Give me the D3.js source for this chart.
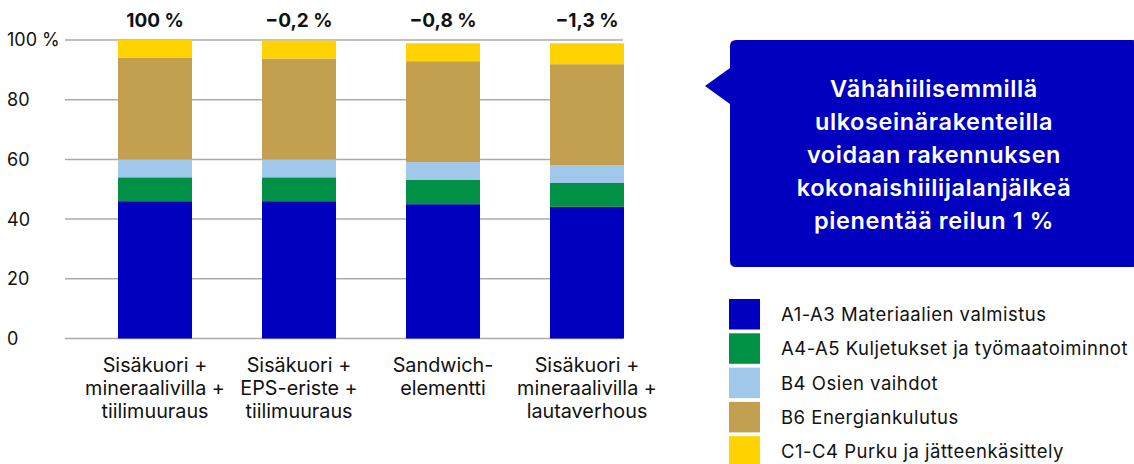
<!DOCTYPE html>
<html><head><meta charset="utf-8">
<script src="https://cdn.jsdelivr.net/npm/d3@7"></script>
<style>
html,body{margin:0;padding:0;background:#fff;}
svg{display:block;font-family:Inter, Roboto, "Noto Sans", sans-serif;}
</style></head>
<body>
<svg id="c" width="1134" height="464"></svg>
<script>
// ---- data ----
const categories = [
  ["Sisäkuori +", "mineraalivilla +", "tiilimuuraus"],
  ["Sisäkuori +", "EPS-eriste +", "tiilimuuraus"],
  ["Sandwich-", "elementti"],
  ["Sisäkuori +", "mineraalivilla +", "lautaverhous"]
];
const topLabels = ["100 %", "\u22120,2 %", "\u22120,8 %", "\u22121,3 %"];
const seriesNames = [
  "A1-A3 Materiaalien valmistus",
  "A4-A5 Kuljetukset ja työmaatoiminnot",
  "B4 Osien vaihdot",
  "B6 Energiankulutus",
  "C1-C4 Purku ja jätteenkäsittely"
];
const seriesColors = ["#0000BE", "#009046", "#A0C8EA", "#C3A050", "#FFD200"];
const A1A3 = [46, 46, 45, 44.1];
const A4A5 = [8, 8, 8.1, 8];
const B4   = [6, 6, 6, 6];
const B6   = [34, 33.8, 33.8, 33.8];
const C1C4 = [6, 6, 6, 7];
const yTicks = [0, 20, 40, 60, 80, 100];
const calloutLines = ["Vähähiilisemmillä", "ulkoseinärakenteilla", "voidaan rakennuksen", "kokonaishiilijalanjälkeä", "pienentää reilun 1 %"];

// ---- build ----
const svg = d3.select("#c");
const keys = ["A1A3","A4A5","B4","B6","C1C4"];
const rows = categories.map((c,i)=>({i, A1A3:A1A3[i], A4A5:A4A5[i], B4:B4[i], B6:B6[i], C1C4:C1C4[i]}));
const stacked = d3.stack().keys(keys)(rows);

const y = d3.scaleLinear().domain([0,100]).range([338.5, 40]);
const x = d3.scaleBand().domain(d3.range(categories.length)).range([83, 659]).paddingInner(0.486).paddingOuter(0.243);

// gridlines
svg.append("g").selectAll("line").data(yTicks).join("line")
  .attr("x1", 65).attr("x2", 623)
  .attr("y1", d=>y(d)).attr("y2", d=>y(d))
  .attr("stroke", "#ABABAB").attr("stroke-width", 1.5);

// y labels
svg.append("g").selectAll("text").data(yTicks).join("text")
  .attr("x", 7).attr("y", d=>y(d)).attr("dy", "0.36em")
  .attr("font-size", 18).attr("fill", "#111")
  .text(d=> d===100 ? "100 %" : d);

// bars
svg.append("g").selectAll("g").data(stacked).join("g")
  .attr("fill", (d,i)=>seriesColors[i])
  .selectAll("rect").data(d=>d).join("rect")
  .attr("x", d=>x(d.data.i)).attr("width", x.bandwidth())
  .attr("y", d=>y(d[1])).attr("height", d=>y(d[0])-y(d[1]));

// top labels
svg.append("g").selectAll("text").data(topLabels).join("text")
  .attr("x", (d,i)=>x(i)+x.bandwidth()/2).attr("y", 26.5)
  .attr("text-anchor","middle").attr("font-size", 19).attr("font-weight", 700).attr("fill","#111")
  .text(d=>d);

// category labels
const cl = svg.append("g").selectAll("text").data(categories).join("text")
  .attr("x", (d,i)=>x(i)+x.bandwidth()/2).attr("y", 372)
  .attr("text-anchor","middle").attr("font-size", 19.8).attr("fill","#111");
cl.selectAll("tspan").data(d=>d).join("tspan")
  .attr("x", function(){return this.parentNode.getAttribute("x");})
  .attr("dy", (d,j)=> j===0 ? 0 : 23.2)
  .text(d=>d);

// callout
const bx0=730, bx1=1138, by0=40, by1=267, r=6;
const p = d3.path();
p.moveTo(bx0+r, by0);
p.lineTo(bx1-r, by0); p.quadraticCurveTo(bx1,by0,bx1,by0+r);
p.lineTo(bx1, by1-r); p.quadraticCurveTo(bx1,by1,bx1-r,by1);
p.lineTo(bx0+r, by1); p.quadraticCurveTo(bx0,by1,bx0,by1-r);
p.lineTo(bx0, 104); p.lineTo(705, 86); p.lineTo(bx0, 68);
p.lineTo(bx0, by0+r); p.quadraticCurveTo(bx0,by0,bx0+r,by0);
p.closePath();
svg.append("path").attr("d", p.toString()).attr("fill", "#0000BE");

const ct = svg.append("text").attr("x", 934).attr("y", 96.5)
  .attr("text-anchor","middle").attr("font-size", 23.5).attr("font-weight", 600)
  .attr("letter-spacing", 0.6).attr("fill","#fff");
ct.selectAll("tspan").data(calloutLines).join("tspan")
  .attr("x", 934).attr("dy", (d,j)=> j===0 ? 0 : 33).text(d=>d);

// legend
const lg = svg.append("g").selectAll("g").data(seriesNames).join("g")
  .attr("transform", (d,i)=>`translate(729,${299 + i*34.3})`);
lg.append("rect").attr("width", 31).attr("height", 30.5).attr("fill", (d,i)=>seriesColors[i]);
lg.append("text").attr("x", 52).attr("y", 15.5).attr("dy","0.36em")
  .attr("font-size", 18.5).attr("letter-spacing", 0.5).attr("fill","#111").text(d=>d);
</script>
</body></html>
